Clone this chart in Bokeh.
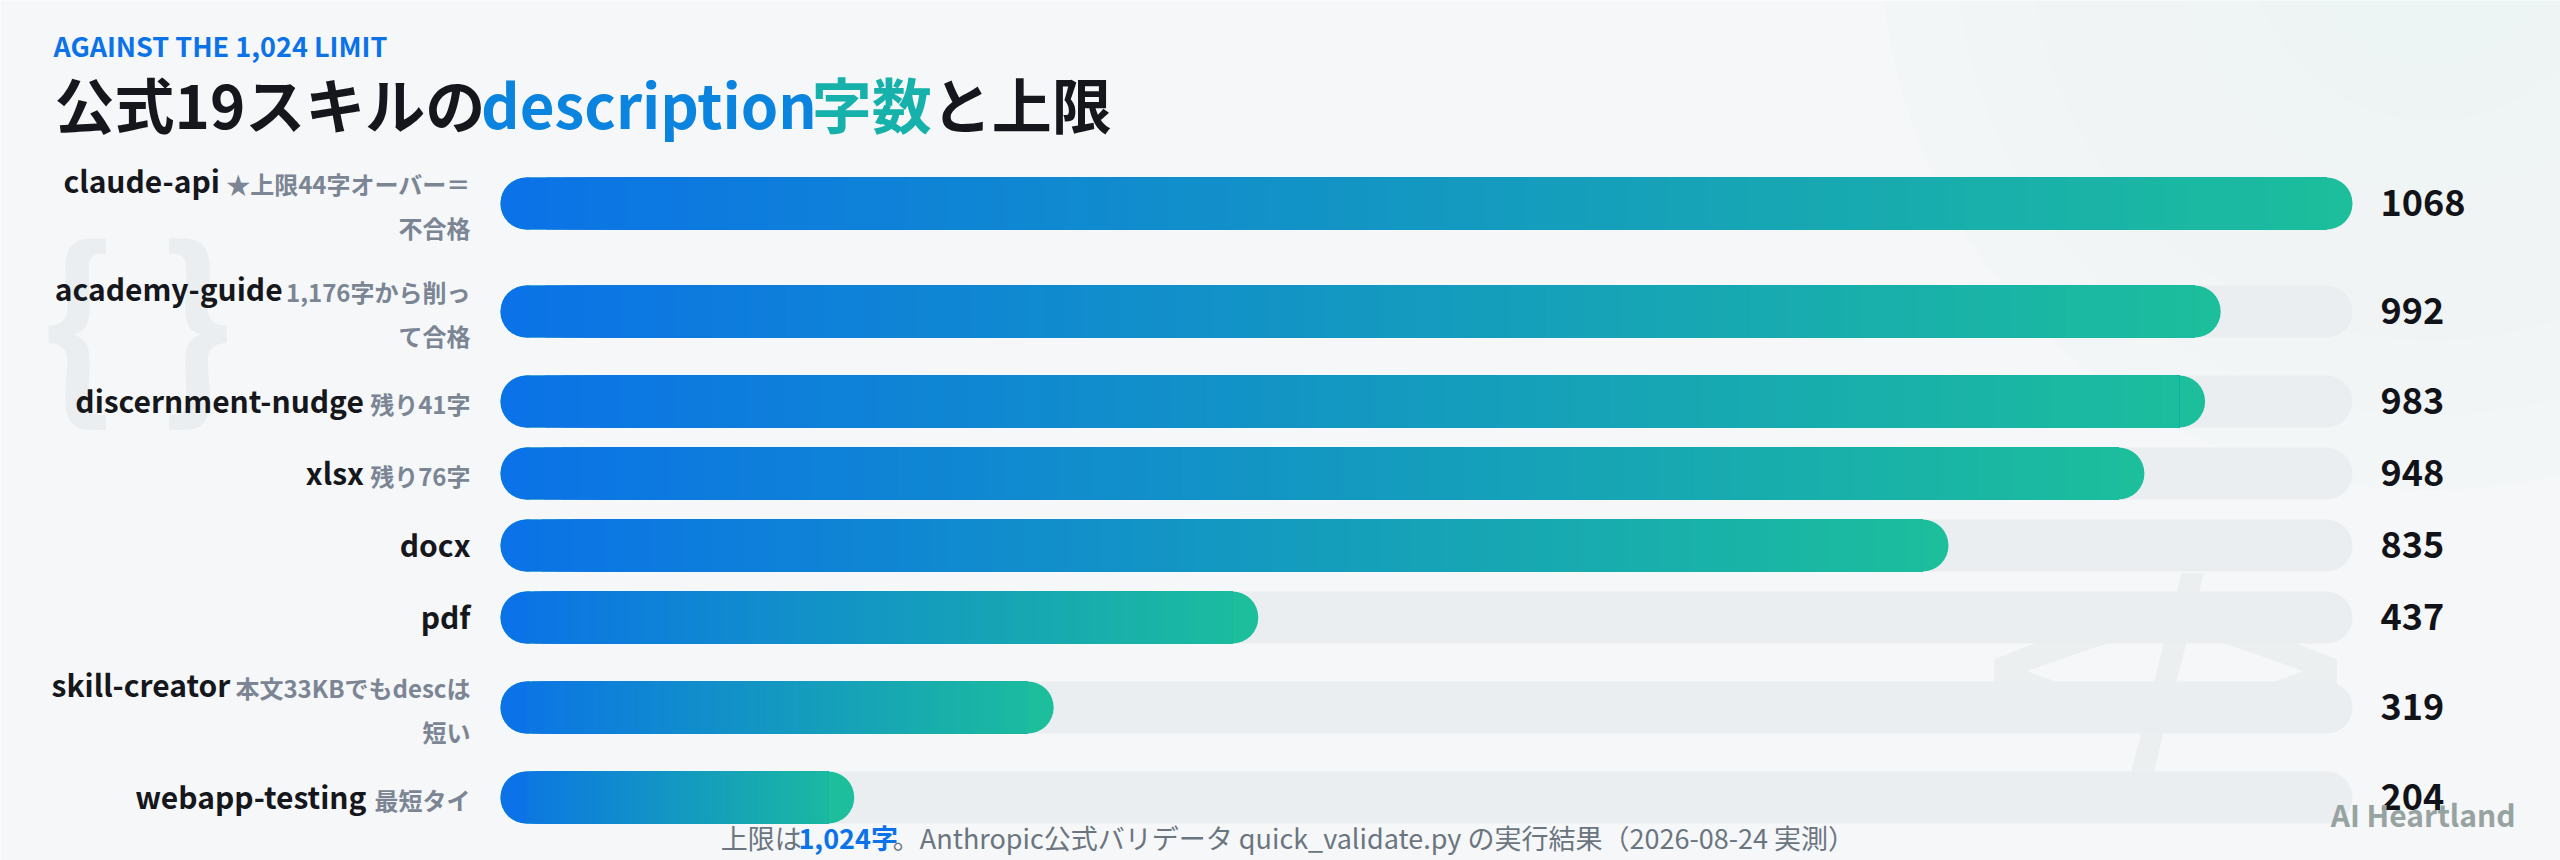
import numpy as np
from bokeh.plotting import figure
from bokeh.models import Range1d, ColumnDataSource
from bokeh.core.properties import value
from bokeh.embed import file_html
from bokeh.resources import INLINE

# ---------------- data ----------------
skills = ["claude-api", "academy-guide", "discernment-nudge", "xlsx",
          "docx", "pdf", "skill-creator", "webapp-testing"]
desc_chars = [1068, 992, 983, 948, 835, 437, 319, 204]
notes_line1 = ["★上限44字オーバー＝", "1,176字から削っ", "残り41字", "残り76字",
               "", "", "本文33KBでもdescは", "最短タイ"]
notes_line2 = ["不合格", "て合格", "", "", "", "", "短い", ""]
subtitle = "AGAINST THE 1,024 LIMIT"
title_parts = ["公式19スキルの", "description", "字数", "と上限"]
footer_parts = ["上限は", "1,024字", "。Anthropic公式バリデータ quick_validate.py の実行結果（2026-08-24 実測）"]
brand = "AI Heartland"

# ---------------- style / layout ----------------
FONT = value("Noto Sans CJK JP")
W, H = 2560, 860
BG = "#f5f7f8"
BAR_X0 = 500          # px where bars start
BAR_LEN = 1852        # px length of the full track
BAR_H = 52
TOP = 149
LINE = 44
GAP = 20
MID = 0.435           # bokeh "middle" anchor sits this many em above the baseline
C0 = np.array([11, 114, 231])
C1 = np.array([28, 190, 156])

# rough advance widths (em) for latin glyphs of Noto Sans CJK JP bold
LW = {' ': .2, ',': .25, '.': .25, '-': .318, '_': .5, '(': .33, ')': .33,
      'A': .59, 'B': .62, 'C': .57, 'D': .64, 'E': .53, 'F': .5, 'G': .63, 'H': .67,
      'I': .29, 'J': .46, 'K': .62, 'L': .49, 'M': .78, 'N': .66, 'O': .68, 'P': .6,
      'Q': .68, 'R': .61, 'S': .55, 'T': .54, 'U': .66, 'V': .58, 'W': .85, 'X': .58,
      'Y': .55, 'Z': .54,
      'a': .528, 'b': .566, 'c': .456, 'd': .566, 'e': .51, 'f': .34, 'g': .518,
      'h': .56, 'i': .274, 'j': .274, 'k': .53, 'l': .284, 'm': .85, 'n': .563,
      'o': .55, 'p': .566, 'q': .566, 'r': .384, 's': .439, 't': .383, 'u': .56,
      'v': .5, 'w': .76, 'x': .5, 'y': .5, 'z': .44}
LAT = 1.11


def tw(s, size, bold=True):
    w = 0.0
    for ch in s:
        if ord(ch) > 0x2000:
            w += 1.0
        elif ch.isdigit():
            w += .5 * LAT
        else:
            w += LW.get(ch, .5) * LAT
    return w * size * (1.0 if bold else 0.96)


def mid(baseline, size):
    return baseline - MID * size


def mix(t):
    c = C0 + (C1 - C0) * t
    return "#%02x%02x%02x" % tuple(int(round(v)) for v in c)


vmax = max(desc_chars)
k = BAR_LEN / vmax
r = (BAR_H / 2) / k

p = figure(width=W, height=H, output_backend="svg", toolbar_location=None,
           x_range=Range1d(-BAR_X0 / k, (W - BAR_X0) / k), y_range=Range1d(H, 0),
           x_axis_location=None, y_axis_location=None, min_border=0,
           background_fill_color=BG, border_fill_color=BG, outline_line_color=None)
p.extra_x_ranges = {"px": Range1d(0, W)}
p.grid.grid_line_color = None

# background soft mint glow top-right
sizes = [1100, 950, 800, 650, 500, 360, 250]
p.scatter(x=[2430] * len(sizes), y=[-60] * len(sizes), size=sizes,
          color="#e8f6f1", alpha=0.09, line_color=None, x_range_name="px")

# faint decorative code glyphs
p.text(x=[137], y=[310], text=["{ }"], text_font=FONT, text_font_style="bold",
       text_font_size="196px", text_align="center", text_baseline="middle",
       text_color="#ebeef0", x_range_name="px")
p.text(x=[2165], y=[657], text=["</>"], text_font=FONT, text_font_style="bold",
       text_font_size="230px", text_align="center", text_baseline="middle",
       text_color="#eceff0", x_range_name="px")

# rows
nlines = [2 if l2 else 1 for l2 in notes_line2]
row_h = np.array([max(BAR_H, n * LINE) + GAP for n in nlines], dtype=float)
centers = TOP + np.cumsum(row_h) - row_h / 2

# tracks
p.segment(x0=[r] * len(centers), x1=[vmax - r] * len(centers), y0=centers, y1=centers,
          line_width=BAR_H, line_cap="round", line_color="#ebeef0")

# gradient bars
p.segment(x0=[r] * len(desc_chars), x1=[v - r for v in desc_chars], y0=centers, y1=centers,
          line_width=BAR_H, line_cap="round", line_color=mix(1.0))
p.scatter(x=[r] * len(desc_chars), y=centers, size=BAR_H, color=mix(0.0), line_color=None)
N = 90
sx0, sx1, sy, sc = [], [], [], []
for v, c in zip(desc_chars, centers):
    edges = np.linspace(r, v - r, N + 1)
    step = edges[1] - edges[0]
    for e in edges[:-1]:
        sx0.append(e)
        sx1.append(v - r)
        sy.append(c)
        sc.append(mix(min(1.0, (e + step / 2) / v)))
p.segment(x0="x0", x1="x1", y0="y", y1="y", line_width=BAR_H, line_cap="butt",
          line_color="c", source=ColumnDataSource(dict(x0=sx0, x1=sx1, y=sy, c=sc)))

# labels
NAME_SZ, NOTE_SZ, VAL_SZ = 30, 24, 36
LABEL_PAD = 30
tops = centers - np.array(nlines) * LINE / 2
base1 = tops + 34
base2 = base1 + LINE
name_off = [-LABEL_PAD - (tw(n1, NOTE_SZ) + 8 if n1 else 0) for n1 in notes_line1]
p.text(x=[0] * len(skills), y=mid(base1, NAME_SZ), text=skills, x_offset=name_off,
       text_font=FONT, text_font_style="bold", text_font_size=f"{NAME_SZ}px",
       text_color="#15171c", text_align="right", text_baseline="middle")
idx1 = [i for i, s in enumerate(notes_line1) if s]
p.text(x=[0] * len(idx1), y=[mid(base1[i], NOTE_SZ) for i in idx1],
       text=[notes_line1[i] for i in idx1],
       x_offset=-LABEL_PAD, text_font=FONT, text_font_style="bold",
       text_font_size=f"{NOTE_SZ}px", text_color="#7b8594", text_align="right",
       text_baseline="middle")
idx2 = [i for i, s in enumerate(notes_line2) if s]
p.text(x=[0] * len(idx2), y=[mid(base2[i], NOTE_SZ) for i in idx2],
       text=[notes_line2[i] for i in idx2],
       x_offset=-LABEL_PAD, text_font=FONT, text_font_style="bold",
       text_font_size=f"{NOTE_SZ}px", text_color="#7b8594", text_align="right",
       text_baseline="middle")

# values
p.text(x=[vmax] * len(desc_chars), y=mid(centers + 15, VAL_SZ),
       text=[str(v) for v in desc_chars],
       x_offset=28, text_font=FONT, text_font_style="bold",
       text_font_size=f"{VAL_SZ}px", text_color="#111318", text_align="left",
       text_baseline="middle")

# subtitle + title
SUB_SZ = 27
p.text(x=[53], y=[mid(57, SUB_SZ)], text=[subtitle], text_font=FONT, text_font_style="bold",
       text_font_size=f"{SUB_SZ}px", text_color="#0b72e7", text_baseline="middle",
       x_range_name="px")
TITLE_SZ = 60
tcols = ["#15171c", "#0a84de", "#16b1aa", "#15171c"]
tx = [54.0]
for part in title_parts[:-1]:
    tx.append(tx[-1] + tw(part, TITLE_SZ))
p.text(x=tx, y=[mid(128, TITLE_SZ)] * 4, text=title_parts, text_color=tcols, text_font=FONT,
       text_font_style="bold", text_font_size=f"{TITLE_SZ}px", text_baseline="middle",
       x_range_name="px")

# footer
FOOT_SZ = 27
fw = [tw(footer_parts[0], FOOT_SZ, False), tw(footer_parts[1], FOOT_SZ),
      tw(footer_parts[2], FOOT_SZ, False)]
fx = [1276 - sum(fw) / 2]
fx.append(fx[0] + fw[0])
fx.append(fx[1] + fw[1])
p.text(x=fx, y=[mid(849, FOOT_SZ)] * 3, text=footer_parts,
       text_color=["#6b7580", "#0b72e7", "#6b7580"],
       text_font=FONT, text_font_style=["normal", "bold", "normal"],
       text_font_size=f"{FOOT_SZ}px", text_baseline="middle", x_range_name="px")

# brand
BR_SZ = 30
p.text(x=[2515], y=[mid(827, BR_SZ)], text=[brand], text_font=FONT, text_font_style="bold",
       text_font_size=f"{BR_SZ}px", text_color="#97a3a1", text_align="right",
       text_baseline="middle", x_range_name="px")

open("out.html", "w").write(file_html(p, INLINE))
